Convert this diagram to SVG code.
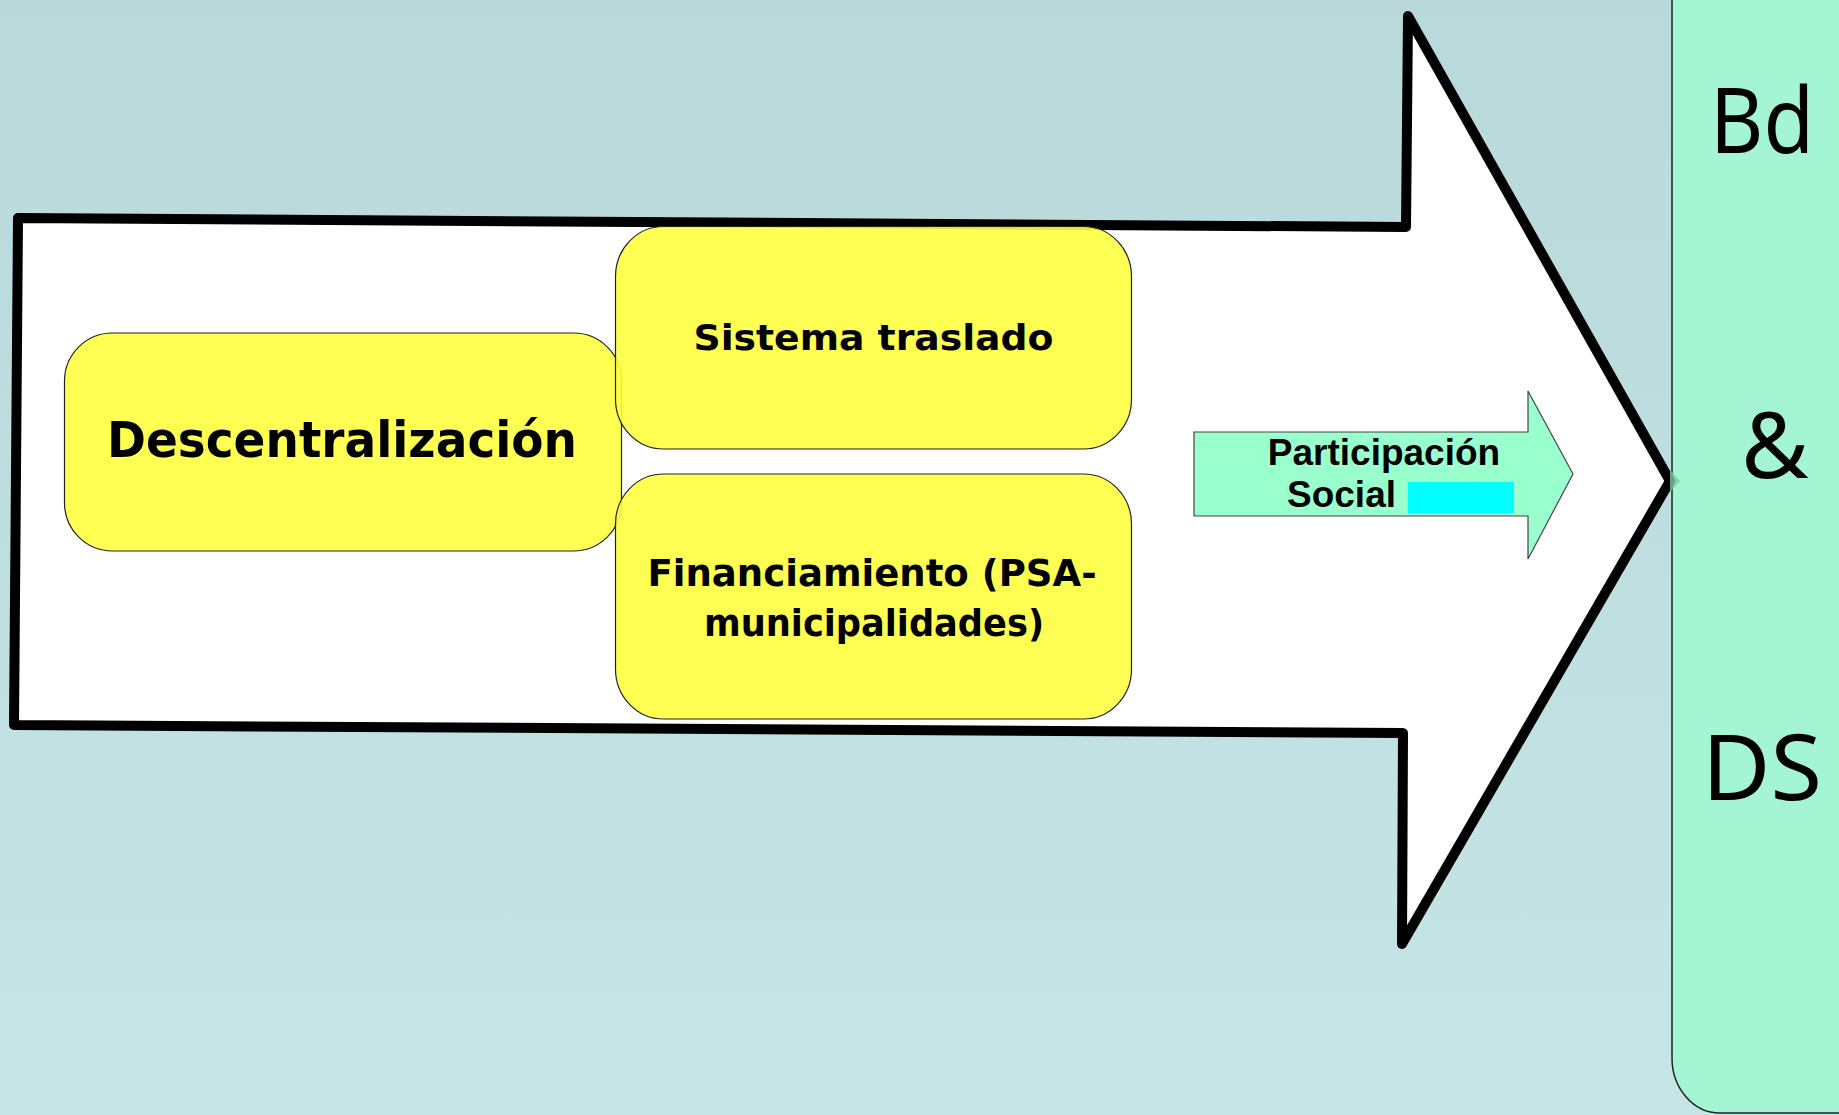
<svg xmlns="http://www.w3.org/2000/svg" width="1839" height="1115" viewBox="0 0 1839 1115">
  <defs>
    <linearGradient id="bg" x1="0" y1="0" x2="0" y2="1">
      <stop offset="0" stop-color="#b9d8da"/>
      <stop offset="1" stop-color="#c6e5e6"/>
    </linearGradient>
  </defs>
  <style>
    .box { fill: #ffff40; fill-opacity: 0.9; stroke: #222; stroke-width: 1.2; }
    .boxtxt { font-family: "DejaVu Sans", "Noto Sans", sans-serif; font-weight: bold; fill: #000; text-anchor: middle; }
    .paneltxt { font-family: "Noto Sans", "DejaVu Sans", sans-serif; fill: #000; text-anchor: middle; }
    .arrowtxt { font-family: "Liberation Sans", Arial, sans-serif; font-weight: bold; fill: #000; font-size: 37px; }
  </style>
  <rect x="0" y="0" width="1839" height="1115" fill="url(#bg)"/>

  <g id="panel">
    <rect x="1672" y="-60" width="220" height="1173" rx="48" ry="55" fill="#a3f5d3" stroke="#222" stroke-width="1.5"/>
    <text class="paneltxt" x="1762" y="153" font-size="92" textLength="104" lengthAdjust="spacingAndGlyphs">Bd</text>
    <text class="paneltxt" x="1775" y="478" font-size="92">&amp;</text>
    <text class="paneltxt" x="1762" y="800" font-size="92" textLength="120" lengthAdjust="spacingAndGlyphs">DS</text>
  </g>

  <g id="big-arrow">
    <polygon points="18,218 1406,227 1408,16 1670,481 1402,944 1403,733 14,725" fill="#ffffff" stroke="#000" stroke-width="10" stroke-linejoin="round"/>
    <polygon points="1670,470 1680,481 1670,492" fill="#7cc9a6" opacity="0.8"/>
  </g>

  <g id="descentralizacion">
    <rect class="box" x="64.5" y="333" width="557" height="218" rx="48" ry="48"/>
    <text class="boxtxt" x="342" y="457" font-size="50" textLength="470" lengthAdjust="spacingAndGlyphs">Descentralización</text>
  </g>

  <g id="sistema-traslado">
    <rect class="box" x="615.5" y="226.5" width="516" height="222.5" rx="48" ry="50"/>
    <text class="boxtxt" x="873.5" y="350" font-size="35" textLength="360" lengthAdjust="spacingAndGlyphs">Sistema traslado</text>
  </g>

  <g id="financiamiento">
    <rect class="box" x="615.5" y="474" width="516" height="245" rx="48" ry="50"/>
    <text class="boxtxt" x="872" y="586" font-size="38" textLength="449" lengthAdjust="spacingAndGlyphs">Financiamiento (PSA-</text>
    <text class="boxtxt" x="874" y="636" font-size="38" textLength="340" lengthAdjust="spacingAndGlyphs">municipalidades)</text>
  </g>

  <g id="participacion">
    <polygon points="1194,432 1528,432 1528,391 1573,474 1528,559 1528,516 1194,516" fill="#99ffcc" stroke="#444" stroke-width="1.2"/>
    <text class="arrowtxt" x="1384" y="465" text-anchor="middle">Participación</text>
    <text class="arrowtxt" x="1287" y="507">Social</text>
    <rect x="1408" y="482" width="106" height="31" fill="#00ffff"/>
  </g>

  <g id="connectors"></g>
</svg>
